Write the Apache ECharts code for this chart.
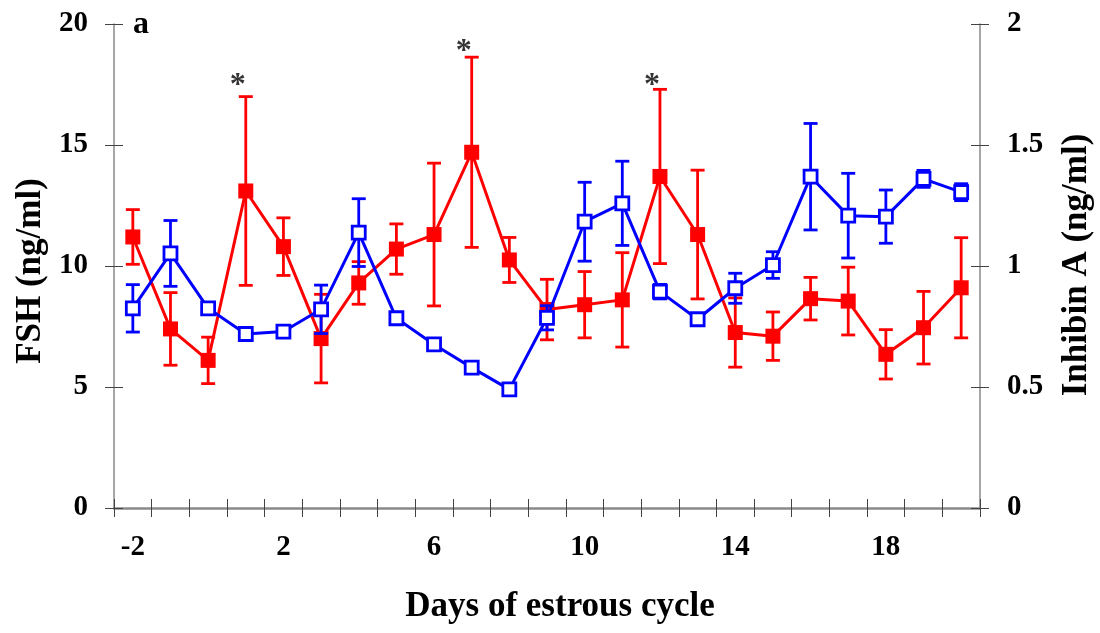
<!DOCTYPE html>
<html>
<head>
<meta charset="utf-8">
<script src="https://cdn.jsdelivr.net/npm/echarts@6/dist/echarts.min.js"></script>
<style>
  html, body { margin: 0; padding: 0; background: #fff; }
  #chart { width: 1100px; height: 633px; }
</style>
</head>
<body>
<div id="chart"></div>
<script>
// Days of the estrous cycle
const days = ['-2','-1','0','1','2','3','4','5','6','7','8','9','10','11','12','13','14','15','16','17','18','19','20'];

// FSH (ng/ml): mean and SEM
const fshMean = [11.2, 7.4, 6.1, 13.1, 10.8, 7.0, 9.3, 10.7, 11.3, 14.7, 10.25, 8.2, 8.4, 8.6, 13.7, 11.3, 7.25, 7.1, 8.65, 8.55, 6.35, 7.45, 9.1];
const fshErr  = [1.13, 1.5, 0.96, 3.9, 1.19, 1.83, 0.88, 1.04, 2.95, 3.93, 0.93, 1.25, 1.37, 1.95, 3.6, 2.66, 1.43, 1.0, 0.88, 1.4, 1.02, 1.5, 2.07];

// Inhibin A (ng/ml): mean and SEM
const inhMean = [0.825, 1.052, 0.825, 0.719, 0.729, 0.821, 1.138, 0.784, 0.676, 0.580, 0.490, 0.786, 1.183, 1.259, 0.894, 0.780, 0.908, 1.004, 1.369, 1.208, 1.204, 1.360, 1.305];
const inhErr  = [0.098, 0.136, 0, 0, 0, 0.1, 0.14, 0, 0, 0, 0, 0.05, 0.163, 0.174, 0.03, 0.02, 0.062, 0.055, 0.22, 0.175, 0.11, 0.035, 0.035];

// Significant FSH peaks (asterisks), in FSH units
const sigDays  = ['1', '7', '12'];
const sigLevel = [17.8, 19.2, 17.8];

const fshTicks = { min: 0, max: 20, interval: 5 };
const inhTicks = { min: 0, max: 2, interval: 0.5 };

const FONT = '"Liberation Serif", "Times New Roman", serif';
const RED = '#ff0000';
const BLUE = '#0000ff';
const AXIS_GRAY = '#8a8a8a';
const TICK_GRAY = '#444';

function errData(mean, err) {
  return mean.map((m, i) => [i, m - err[i], m + err[i]]).filter((d, i) => err[i] > 0);
}

function errRender(color) {
  return function (params, api) {
    const x = api.value(0);
    const lo = api.coord([x, api.value(1)]);
    const hi = api.coord([x, api.value(2)]);
    const half = 7;
    const style = { stroke: color, lineWidth: 2.8 };
    return {
      type: 'group',
      children: [
        { type: 'line', shape: { x1: lo[0], y1: lo[1], x2: hi[0], y2: hi[1] }, style },
        { type: 'line', shape: { x1: lo[0] - half, y1: lo[1], x2: lo[0] + half, y2: lo[1] }, style },
        { type: 'line', shape: { x1: hi[0] - half, y1: hi[1], x2: hi[0] + half, y2: hi[1] }, style }
      ]
    };
  };
}

const labelStyle = { color: '#000', fontFamily: FONT, fontWeight: 'bold', fontSize: 29 };

const chart = echarts.init(document.getElementById('chart'), null, { renderer: 'canvas' });

chart.setOption({
  animation: false,
  backgroundColor: '#fff',
  grid: { left: 114, right: 120, top: 24, bottom: 125 },
  xAxis: [
    {
      type: 'category', data: days, boundaryGap: true, position: 'bottom',
      axisLine: { lineStyle: { color: AXIS_GRAY, width: 2.5 } },
      axisTick: { show: true, interval: 0, length: 9, lineStyle: { color: TICK_GRAY, width: 1 } },
      axisLabel: Object.assign({ interval: 3, margin: 25 }, labelStyle),
      splitLine: { show: false }
    },
    {
      type: 'category', data: days, boundaryGap: true, position: 'bottom',
      axisLine: { show: false },
      axisTick: { show: true, inside: true, interval: 0, length: 9, lineStyle: { color: TICK_GRAY, width: 1 } },
      axisLabel: { show: false },
      splitLine: { show: false }
    }
  ],
  yAxis: [
    Object.assign({
      type: 'value', position: 'left',
      axisLine: { show: true, lineStyle: { color: AXIS_GRAY, width: 1.5 } },
      axisTick: { show: true, length: 9, lineStyle: { color: TICK_GRAY, width: 1 } },
      axisLabel: Object.assign({ margin: 26 }, labelStyle),
      splitLine: { show: false }
    }, fshTicks),
    Object.assign({
      type: 'value', position: 'right',
      axisLine: { show: true, lineStyle: { color: AXIS_GRAY, width: 1.5 } },
      axisTick: { show: true, length: 9, lineStyle: { color: TICK_GRAY, width: 1 } },
      axisLabel: Object.assign({ margin: 27 }, labelStyle),
      splitLine: { show: false }
    }, inhTicks),
    Object.assign({
      type: 'value', position: 'left',
      axisLine: { show: false },
      axisTick: { show: true, inside: true, length: 9, lineStyle: { color: TICK_GRAY, width: 1 } },
      axisLabel: { show: false },
      splitLine: { show: false }
    }, fshTicks),
    Object.assign({
      type: 'value', position: 'right',
      axisLine: { show: false },
      axisTick: { show: true, inside: true, length: 9, lineStyle: { color: TICK_GRAY, width: 1 } },
      axisLabel: { show: false },
      splitLine: { show: false }
    }, inhTicks)
  ],
  graphic: [
    { type: 'text', left: 133, top: 9, style: { text: 'a', font: 'bold 32px ' + FONT, fill: '#000' } },
    { type: 'text', x: 31, y: 271, rotation: Math.PI / 2,
      style: { text: 'FSH (ng/ml)', font: 'bold 35px ' + FONT, fill: '#000', align: 'center', verticalAlign: 'middle' } },
    { type: 'text', x: 1077, y: 265, rotation: Math.PI / 2,
      style: { text: 'Inhibin A (ng/ml)', font: 'bold 35px ' + FONT, fill: '#000', align: 'center', verticalAlign: 'middle' } },
    { type: 'text', x: 560, y: 607,
      style: { text: 'Days of estrous cycle', font: 'bold 35px ' + FONT, fill: '#000', align: 'center', verticalAlign: 'middle' } }
  ],
  series: [
    {
      name: 'FSH SEM', type: 'custom', xAxisIndex: 0, yAxisIndex: 0,
      data: errData(fshMean, fshErr), renderItem: errRender(RED), z: 2
    },
    {
      name: 'FSH', type: 'line', xAxisIndex: 0, yAxisIndex: 0,
      data: fshMean, symbol: 'rect', symbolSize: 15, showAllSymbol: true,
      lineStyle: { color: RED, width: 3 },
      itemStyle: { color: RED, borderColor: RED, borderWidth: 0 }, z: 3
    },
    {
      name: 'Inhibin A SEM', type: 'custom', xAxisIndex: 0, yAxisIndex: 1,
      data: errData(inhMean, inhErr), renderItem: errRender(BLUE), z: 4
    },
    {
      name: 'Inhibin A', type: 'line', xAxisIndex: 0, yAxisIndex: 1,
      data: inhMean, symbol: 'rect', symbolSize: 13, showAllSymbol: true,
      lineStyle: { color: BLUE, width: 3 },
      itemStyle: { color: '#fff', borderColor: BLUE, borderWidth: 2.8 }, z: 5
    },
    {
      name: 'significance', type: 'scatter', xAxisIndex: 0, yAxisIndex: 0,
      data: sigDays.map((d, i) => [d, sigLevel[i]]),
      symbolSize: 1, itemStyle: { color: 'rgba(0,0,0,0)' },
      label: { show: true, position: 'inside', formatter: '*', offset: [-8, 8],
        color: '#000', fontFamily: FONT, fontWeight: 'bold', fontSize: 32 },
      z: 6
    }
  ]
});
</script>
</body>
</html>
